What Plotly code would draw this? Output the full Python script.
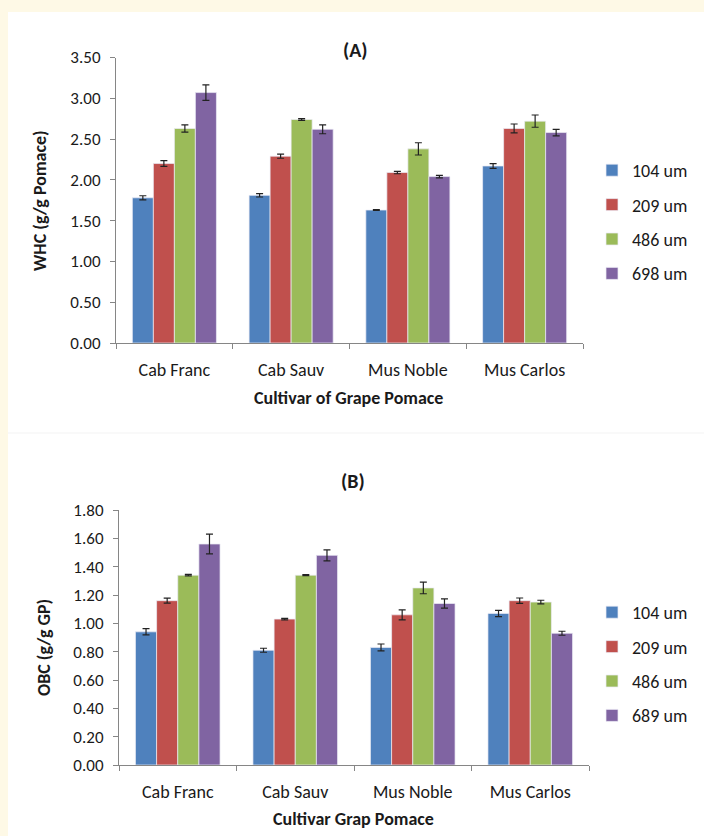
import plotly.graph_objects as go

# Cultivars and particle-size series
cultivars = ["Cab Franc", "Cab Sauv", "Mus Noble", "Mus Carlos"]
colors = ["#4F81BD", "#C0504D", "#9BBB59", "#8064A2"]

# (A) Water holding capacity, g/g pomace
whc_sizes = ["104 um", "209 um", "486 um", "698 um"]
whc_104 = [1.78, 1.81, 1.63, 2.17]
whc_209 = [2.20, 2.29, 2.09, 2.63]
whc_486 = [2.63, 2.74, 2.38, 2.72]
whc_698 = [3.07, 2.62, 2.04, 2.58]
whc_err_104 = [0.025, 0.02, 0.005, 0.03]
whc_err_209 = [0.035, 0.025, 0.015, 0.055]
whc_err_486 = [0.045, 0.01, 0.075, 0.075]
whc_err_698 = [0.095, 0.055, 0.015, 0.04]

# (B) Oil binding capacity, g/g GP
obc_sizes = ["104 um", "209 um", "486 um", "689 um"]
obc_104 = [0.94, 0.81, 0.83, 1.07]
obc_209 = [1.16, 1.03, 1.06, 1.16]
obc_486 = [1.34, 1.34, 1.25, 1.15]
obc_689 = [1.56, 1.48, 1.14, 0.93]
obc_err_104 = [0.022, 0.014, 0.024, 0.022]
obc_err_209 = [0.018, 0.005, 0.035, 0.019]
obc_err_486 = [0.005, 0.004, 0.041, 0.013]
obc_err_689 = [0.07, 0.039, 0.033, 0.014]

FONT = "Carlito, Lato, sans-serif"
TEXT = "#1a1a1a"
AXIS_GRAY = "#868686"
W, H = 704, 836

whc_vals = [whc_104, whc_209, whc_486, whc_698]
whc_errs = [whc_err_104, whc_err_209, whc_err_486, whc_err_698]
obc_vals = [obc_104, obc_209, obc_486, obc_689]
obc_errs = [obc_err_104, obc_err_209, obc_err_486, obc_err_689]

fig = go.Figure()


def add_bars(names, vals, errs, xa, ya, legend):
    for i, (name, v, e) in enumerate(zip(names, vals, errs)):
        fig.add_trace(go.Bar(
            x=cultivars, y=v, name=name,
            xaxis=xa, yaxis=ya, legend=legend,
            legendgroup=f"{legend}-{i}",
            offsetgroup=str(i),
            marker=dict(color=colors[i],
                        line=dict(color="rgba(235,235,245,0.9)", width=0.8)),
            error_y=dict(type="data", array=e, color="#222222",
                         thickness=1.2, width=3.5),
        ))


add_bars(whc_sizes, whc_vals, whc_errs, "x", "y", "legend")
add_bars(obc_sizes, obc_vals, obc_errs, "x2", "y2", "legend2")


def px_x(x):
    return x / W


def px_y(y):
    return 1 - y / H


def label(text, x, y, size, angle=0):
    return dict(text=text, x=px_x(x), y=px_y(y), xref="paper", yref="paper",
                xanchor="center", yanchor="middle", showarrow=False,
                textangle=angle, font=dict(family=FONT, size=size, color=TEXT))


axis_common = dict(
    showline=True, linecolor=AXIS_GRAY, linewidth=1.2,
    ticks="outside", ticklen=5, tickcolor=AXIS_GRAY, tickwidth=1.2,
    showgrid=False, zeroline=False, automargin=False,
)
xaxis_common = dict(axis_common, tickson="boundaries", ticklabelstandoff=10,
                    tickfont=dict(family=FONT, size=18, color=TEXT))
yaxis_common = dict(axis_common, ticklabelstandoff=6, tickformat=".2f",
                    tickfont=dict(family=FONT, size=17, color=TEXT))

legend_common = dict(
    font=dict(family=FONT, size=18, color=TEXT),
    bgcolor="rgba(0,0,0,0)",
    tracegroupgap=8,
    xanchor="left", yanchor="middle",
    itemwidth=30,
)

fig.update_layout(
    width=W, height=H,
    margin=dict(l=0, r=0, t=0, b=0, pad=0, autoexpand=False),
    paper_bgcolor="#FEF9E6",
    plot_bgcolor="rgba(0,0,0,0)",
    barmode="group",
    bargap=0.28,
    bargroupgap=0.0,
    showlegend=True,
    xaxis=dict(xaxis_common, domain=[px_x(116), px_x(583)], anchor="y"),
    yaxis=dict(yaxis_common, domain=[px_y(343), px_y(57.5)], anchor="x",
               range=[0, 3.5], dtick=0.5),
    xaxis2=dict(xaxis_common, domain=[px_x(119), px_x(589)], anchor="y2"),
    yaxis2=dict(yaxis_common, domain=[px_y(765), px_y(510)], anchor="x2",
                range=[0, 1.8], dtick=0.2),
    legend=dict(legend_common, x=px_x(592), y=px_y(222)),
    legend2=dict(legend_common, x=px_x(592), y=px_y(664)),
    shapes=[
        # white panel on the cream page
        dict(type="rect", xref="paper", yref="paper",
             x0=px_x(8), x1=1, y0=0, y1=px_y(12),
             fillcolor="white", line=dict(width=0), layer="below"),
        dict(type="line", xref="paper", yref="paper",
             x0=px_x(8), x1=1, y0=px_y(433), y1=px_y(433),
             line=dict(color="#F3F3F3", width=1), layer="below"),
    ],
    annotations=[
        label("<b>(A)</b>", 355.5, 50, 20),
        label("<b>(B)</b>", 353, 481, 20),
        label("<b>Cultivar of Grape Pomace</b>", 348, 398, 18),
        label("<b>Cultivar Grap Pomace</b>", 353, 819, 18),
        label("<b>WHC (g/g Pomace)</b>", 40, 201, 18, -90),
        label("<b>OBC (g/g GP)</b>", 44, 648, 18, -90),
    ],
)

fig.write_html("out.html")
